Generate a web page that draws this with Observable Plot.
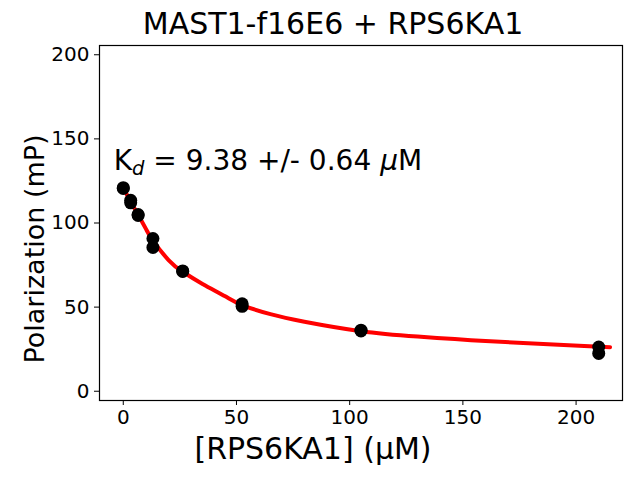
<!DOCTYPE html>
<html>
<head>
<meta charset="utf-8">
<script src="https://cdn.jsdelivr.net/npm/d3@7"></script>
<script src="https://cdn.jsdelivr.net/npm/@observablehq/plot@0.6"></script>
<style>
  html, body { margin: 0; padding: 0; background: white; }
  #chart { width: 640px; height: 480px; }
</style>
</head>
<body>
<div id="chart"></div>
<script>
// Measured points: concentration (µM) and polarization (mP)
const conc = [0, 0, 3.28, 3.28, 6.56, 6.56, 13.1, 13.1, 26.25, 26.25, 52.5, 52.5, 105, 105, 210, 210];
const pol  = [121, 120.5, 113.5, 112, 105, 104.5, 90.8, 85.5, 71.5, 71.2, 52, 50.5, 36.3, 35.8, 26.3, 22.5];

// Fitted curve
const fitX = [0, 3.3, 6.6, 10, 13.1, 20, 26.25, 35, 45, 52.5, 65, 80, 105, 130, 160, 190, 215];
const fitY = [121, 112.5, 104.8, 96.5, 89.5, 78, 71, 63.8, 56.4, 51.2, 45.8, 41.3, 35.7, 32.5, 29.8, 27.8, 26.2];

const xTicks = [0, 50, 100, 150, 200];
const yTicks = [0, 50, 100, 150, 200];

const titleText = "MAST1-f16E6 + RPS6KA1";
const xLabel = "[RPS6KA1] (μM)";
const yLabel = "Polarization (mP)";
const kdValue = "9.38";
const kdErr = "0.64";

const points = conc.map((c, i) => ({x: c, y: pol[i]}));
const fit = fitX.map((c, i) => ({x: c, y: fitY[i]}));

const FONT = "DejaVu Sans";

const plot = Plot.plot({
  width: 640,
  height: 480,
  marginLeft: 99,
  marginRight: 18,
  marginTop: 45,
  marginBottom: 80,
  style: {fontFamily: FONT, fontSize: "20px", background: "white", color: "black"},
  x: {domain: [-10.5, 220.5]},
  y: {domain: [-5.5, 205.5]},
  marks: [
    Plot.axisX({ticks: xTicks, tickSize: 5, tickPadding: 4, fontSize: 20, label: null}),
    Plot.axisY({ticks: yTicks, tickSize: 5, tickPadding: 5, fontSize: 20, label: null}),
    Plot.line(fit, {x: "x", y: "y", stroke: "red", strokeWidth: 4, curve: "natural"}),
    Plot.dot(points, {x: "x", y: "y", r: 6.5, fill: "black", stroke: "none"}),
    Plot.frame({stroke: "black", strokeWidth: 1.2}),
    Plot.text([titleText], {frameAnchor: "top", dx: -28, dy: -21, text: d => d, fontSize: 30, textAnchor: "middle", lineAnchor: "middle", fill: "black"}),
    Plot.text([xLabel], {frameAnchor: "bottom", dx: -48, dy: 49, text: d => d, fontSize: 30, textAnchor: "middle", lineAnchor: "middle", fill: "black"}),
    Plot.text([yLabel], {frameAnchor: "left", dx: -64, dy: 26, rotate: -90, text: d => d, fontSize: 27, textAnchor: "middle", lineAnchor: "middle", fill: "black"})
  ]
});

// Kd annotation with subscript and italic mu
const sx = plot.scale("x"), sy = plot.scale("y");
const t = d3.select(plot).append("text")
  .attr("x", sx.apply(-4))
  .attr("y", sy.apply(131))
  .attr("text-anchor", "start")
  .attr("font-family", FONT)
  .attr("font-size", 28)
  .attr("fill", "black");
t.append("tspan").text("K");
t.append("tspan").attr("font-style", "italic").attr("font-size", 19.5).attr("dy", 5).text("d");
t.append("tspan").attr("dy", -5).text(` = ${kdValue} +/- ${kdErr} `);
t.append("tspan").attr("font-style", "italic").text("μ");
t.append("tspan").text("M");

document.getElementById("chart").appendChild(plot);
</script>
</body>
</html>
